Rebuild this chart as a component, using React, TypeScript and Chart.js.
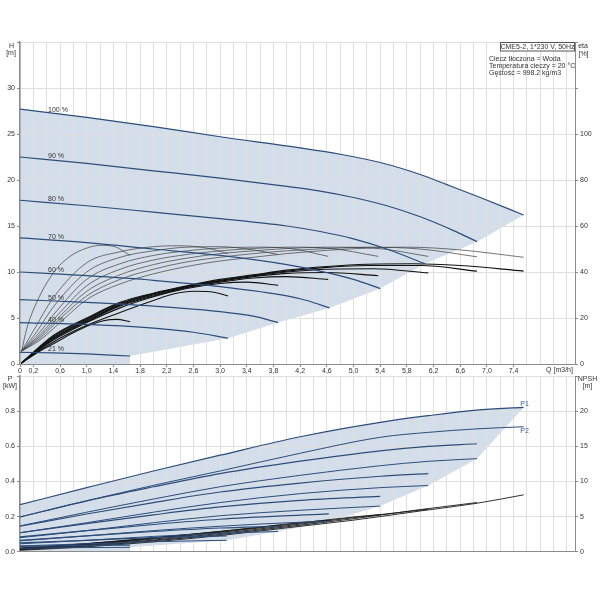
import React, { useEffect, useRef } from 'react';
import { Chart, registerables } from 'chart.js';

Chart.register(...registerables);

const FONT = '"Liberation Sans", Arial, Helvetica, sans-serif';

// ---------- speed labels ----------
const SPEEDS = ['100 %', '90 %', '80 %', '70 %', '60 %', '50 %', '40 %', '21 %'];
const LABEL_Q = 0.42;
const LABEL_H = [27.64, 22.58, 17.88, 13.8, 10.2, 7.22, 4.78, 1.63];

// ---------- H curves [m] ----------
const H_FLOW = [
  [0, 1, 2, 3, 4.2, 4.8, 5.4, 6, 6.4, 6.9, 7.55],
  [0, 1, 2, 3, 4, 4.5, 5, 5.5, 6, 6.5, 6.85],
  [0, 1, 2, 3, 4, 4.5, 5, 5.5, 6.07],
  [0, 1, 2, 3, 4, 4.5, 5, 5.4],
  [0, 1, 2, 3, 4, 4.3, 4.64],
  [0, 1, 2, 3, 3.5, 3.87],
  [0, 1, 2, 2.6, 3.12],
  [0, 0.5, 1, 1.65],
];
const H_HEAD = [
  [27.7, 26.8, 25.8, 24.7, 23.5, 22.8, 21.9, 20.6, 19.5, 18.1, 16.2],
  [22.5, 21.8, 21.0, 20.2, 19.3, 18.8, 18.1, 17.2, 16.0, 14.5, 13.3],
  [17.8, 17.2, 16.5, 15.8, 15.0, 14.4, 13.6, 12.5, 10.9],
  [13.7, 13.2, 12.5, 11.8, 10.8, 10.1, 9.2, 8.2],
  [10.0, 9.6, 9.1, 8.4, 7.4, 6.9, 6.1],
  [7.0, 6.7, 6.3, 5.7, 5.2, 4.5],
  [4.5, 4.3, 3.9, 3.45, 2.8],
  [1.27, 1.2, 1.09, 0.87],
];
// lower edge of the operating range (top chart)
const H_EDGE_Q = [0, 1.65, 1.65, 3.12, 3.87, 4.64, 5.4, 6.07, 6.85, 7.55];
const H_EDGE_H = [0, 0, 0.87, 2.8, 4.5, 6.1, 8.2, 10.9, 13.3, 16.2];

// ---------- eta curves, thin family [%] ----------
const ETA1_FLOW = [
  [0.025, 0.3, 0.6, 1.0, 1.5, 2.0, 2.5, 3.0, 3.5, 4.0, 4.6, 5.2, 5.8, 6.6, 7.55],
  [0.025, 0.3, 0.6, 1.0, 1.5, 2.0, 2.5, 3.0, 3.5, 4.0, 4.6, 5.2, 6.0, 6.85],
  [0.025, 0.3, 0.6, 1.0, 1.5, 2.0, 2.5, 3.0, 3.5, 4.0, 4.6, 5.3, 6.12],
  [0.025, 0.3, 0.6, 1.0, 1.5, 2.0, 2.5, 3.0, 3.5, 4.0, 4.6, 5.37],
  [0.025, 0.3, 0.6, 1.0, 1.5, 2.0, 2.5, 3.0, 3.5, 4.0, 4.62],
  [0.025, 0.25, 0.5, 1.0, 1.5, 2.0, 2.5, 3.0, 3.5, 3.87],
  [0.025, 0.2, 0.5, 1.0, 1.5, 2.0, 2.4, 2.8, 3.12],
  [0.025, 0.1, 0.25, 0.5, 0.75, 1.0, 1.2, 1.42, 1.65],
];
const ETA1_VAL = [
  [5.6, 10.4, 18.0, 28.0, 34.8, 39.2, 42.4, 44.8, 46.4, 48.0, 49.4, 50.4, 50.8, 49.6, 46.4],
  [5.6, 11.2, 19.6, 29.6, 36.8, 41.2, 44.4, 46.4, 48.0, 49.2, 50.2, 50.8, 50.0, 46.6],
  [5.6, 12.0, 20.8, 31.6, 38.8, 43.2, 46.0, 48.0, 49.2, 50.2, 50.8, 50.4, 46.8],
  [5.6, 12.8, 22.4, 34.0, 41.2, 45.2, 47.6, 49.2, 50.2, 50.8, 50.4, 46.8],
  [5.6, 14.0, 24.8, 36.8, 43.6, 47.2, 49.2, 50.4, 50.8, 50.4, 46.8],
  [5.6, 14.0, 24.8, 40.0, 46.4, 49.2, 50.8, 51.0, 49.6, 47.6],
  [5.6, 14.4, 28.8, 44.0, 48.8, 51.0, 51.4, 50.4, 48.0],
  [5.6, 15.2, 26.8, 39.6, 46.8, 50.4, 51.6, 51.0, 47.2],
];

// ---------- eta curves, thick family [%] ----------
const ETA2_FLOW = [
  [0.02, 0.5, 1, 1.5, 2, 2.5, 3, 3.5, 4, 4.6, 5.2, 5.9, 6.6, 7.55],
  [0.02, 0.5, 1, 1.5, 2, 2.5, 3, 3.5, 4, 4.6, 5.2, 6, 6.85],
  [0.02, 0.5, 1, 1.5, 2, 2.5, 3, 3.5, 4, 4.6, 5.3, 6.12],
  [0.02, 0.5, 1, 1.5, 2, 2.5, 3, 3.5, 4, 4.6, 5.37],
  [0.02, 0.5, 1, 1.5, 2, 2.5, 3, 3.5, 4.0, 4.62],
  [0.02, 0.5, 1.0, 1.5, 2.0, 2.5, 3.0, 3.4, 3.87],
  [0.02, 0.5, 1.0, 1.5, 2.0, 2.3, 2.6, 2.85, 3.12],
  [0.02, 0.25, 0.5, 0.75, 1.0, 1.25, 1.45, 1.65],
];
const ETA2_VAL = [
  [0.4, 12.4, 20.0, 26.8, 30.8, 34.0, 36.8, 38.8, 40.8, 42.4, 43.4, 43.6, 42.8, 40.4],
  [0.4, 12.0, 19.6, 26.4, 30.6, 33.8, 36.4, 38.6, 40.4, 42.0, 42.8, 42.8, 40.4],
  [0.4, 11.6, 19.2, 26.0, 30.4, 33.6, 36.2, 38.4, 40.0, 41.2, 41.4, 39.6],
  [0.4, 11.2, 18.8, 25.6, 30.0, 33.4, 36.0, 38.0, 39.4, 39.8, 38.4],
  [0.4, 10.8, 18.4, 25.2, 29.6, 33.2, 35.6, 37.4, 38.0, 36.8],
  [0.4, 10.4, 18.0, 24.4, 29.2, 32.8, 35.0, 35.6, 34.2],
  [0.4, 9.6, 16.8, 22.4, 27.6, 30.4, 31.6, 31.4, 29.6],
  [0.4, 4.8, 8.8, 12.8, 16.4, 18.8, 19.4, 18.4],
];

// ---------- power curves [kW] ----------
const P1_FLOW = [
  [0, 1, 2, 3, 4.2, 5.4, 6.12, 6.85, 7.55],
  [0, 1, 2, 3, 4.2, 5.4, 6.12, 6.85],
  [0, 1, 2, 3, 4.2, 5.4, 6.12],
  [0, 1, 2, 3, 4.2, 5.4],
  [0, 1, 2, 3, 4.2, 4.63],
  [0, 1, 2, 3, 3.87],
  [0, 1, 2, 3.1],
  [0, 0.8, 1.65],
];
const P1_VAL = [
  [0.268, 0.365, 0.46, 0.55, 0.655, 0.737, 0.775, 0.807, 0.822],
  [0.198, 0.29, 0.37, 0.445, 0.516, 0.575, 0.60, 0.615],
  [0.145, 0.215, 0.28, 0.34, 0.391, 0.43, 0.445],
  [0.108, 0.16, 0.21, 0.255, 0.293, 0.315],
  [0.085, 0.12, 0.155, 0.185, 0.208, 0.215],
  [0.065, 0.09, 0.115, 0.135, 0.145],
  [0.05, 0.065, 0.08, 0.09],
  [0.03, 0.035, 0.038],
];
const P2_VAL = [
  [0.198, 0.29, 0.378, 0.46, 0.561, 0.652, 0.68, 0.70, 0.712],
  [0.147, 0.225, 0.30, 0.37, 0.435, 0.49, 0.515, 0.53],
  [0.108, 0.165, 0.225, 0.28, 0.331, 0.365, 0.377],
  [0.08, 0.12, 0.165, 0.205, 0.236, 0.26],
  [0.062, 0.09, 0.12, 0.145, 0.168, 0.172],
  [0.045, 0.065, 0.087, 0.105, 0.115],
  [0.033, 0.045, 0.057, 0.065],
  [0.02, 0.023, 0.025],
];
const P_EDGE_Q = [0, 1.65, 1.65, 3.1, 3.87, 4.63, 5.4, 6.12, 6.85, 7.55];
const P_EDGE_P = [0, 0, 0.025, 0.065, 0.115, 0.172, 0.26, 0.377, 0.53, 0.822];

// ---------- NPSH curves [m] ----------
const NPSH_FLOW = [
  [0, 1, 2, 3, 4, 5, 6, 6.85, 7.55],
  [0, 1, 2, 3, 4, 5, 6, 6.85],
  [0, 1, 2, 3, 4, 5, 6.12],
  [0, 1, 2, 3, 4, 5, 5.4],
  [0, 1, 2, 3, 4, 4.63],
  [0, 1, 2, 3, 3.87],
  [0, 1, 2, 3.1],
  [0, 1, 1.65],
];
const NPSH_VAL = [
  [0.2, 0.7, 1.4, 2.3, 3.4, 4.5, 5.8, 6.9, 8.1],
  [0.3, 0.8, 1.55, 2.45, 3.55, 4.7, 6.0, 7.0],
  [0.35, 0.9, 1.65, 2.6, 3.7, 4.85, 6.05],
  [0.4, 1.0, 1.8, 2.75, 3.85, 4.95, 5.3],
  [0.45, 1.05, 1.9, 2.85, 3.95, 4.5],
  [0.45, 1.1, 1.95, 2.9, 3.75],
  [0.5, 1.15, 2.0, 2.95],
  [0.5, 1.15, 1.6],
];

const INFO = ['Ciecz tłoczona = Woda', 'Temperatura cieczy = 20 °C', 'Gęstość = 998.2 kg/m3'];
const TITLE_BOX = 'CME5-2, 1*230 V, 50Hz';

// ---------- styles ----------
const FILL = '#d3deea';
const BLUE = '#2c4d7c';
const GRID = '#dfdfdf';
const AXIS = '#8c8c8c';
const TXT = '#333333';

const pts = (q: number[], v: number[]) => q.map((x, i) => ({ x, y: v[i] }));

const Q_LABELED = (v: number) => {
  const r = Math.round(v * 10);
  return r === 0 || (r % 4 === 2 && r <= 74);
};
const fmtQ = (v: number) => {
  const r = Math.round(v * 10);
  if (r === 0) return '0';
  return (r / 10).toFixed(1).replace('.', ',');
};

const curve = (data: any[], color: string, width: number, axis: string, order: number) => ({
  data,
  borderColor: color,
  borderWidth: width,
  yAxisID: axis,
  pointRadius: 0,
  fill: false,
  order,
  cubicInterpolationMode: 'monotone' as const,
});

const tickFont = { family: FONT, size: 7 };

function xScale(showLabels: boolean, height: number) {
  return {
    type: 'linear',
    min: 0,
    max: 8.32,
    position: 'bottom',
    afterFit: (s: any) => { s.height = height; },
    ticks: {
      stepSize: 0.2,
      includeBounds: false,
      autoSkip: false,
      maxRotation: 0,
      minRotation: 0,
      padding: 0,
      display: showLabels,
      font: tickFont,
      color: TXT,
      callback: (v: any) => (Q_LABELED(Number(v)) ? fmtQ(Number(v)) : ''),
    },
    grid: {
      color: GRID,
      lineWidth: 1,
      drawTicks: showLabels,
      tickLength: 3,
      tickColor: (ctx: any) => (ctx.tick && Q_LABELED(ctx.tick.value) ? AXIS : 'rgba(0,0,0,0)'),
    },
    border: { color: AXIS, width: 1 },
  };
}

function yScale(pos: 'left' | 'right', max: number, step: number, width: number, fmt: (v: number) => string, grid: boolean) {
  return {
    type: 'linear',
    position: pos,
    min: 0,
    max,
    afterFit: (s: any) => { s.width = width; },
    ticks: {
      stepSize: step,
      padding: 2,
      font: tickFont,
      color: TXT,
      callback: (v: any) => fmt(Number(v)),
    },
    grid: {
      color: GRID,
      drawOnChartArea: grid,
      tickLength: 3,
      tickColor: AXIS,
    },
    border: { color: AXIS, width: pos === 'left' ? 1.5 : 1 },
  };
}

function topConfig(): any {
  const fillData = [
    ...pts(H_EDGE_Q, H_EDGE_H),
    ...pts(H_FLOW[0], H_HEAD[0]).reverse(),
  ];
  const datasets: any[] = [
    {
      data: fillData,
      borderWidth: 0,
      backgroundColor: FILL,
      fill: 'shape',
      pointRadius: 0,
      tension: 0,
      yAxisID: 'y',
      order: 10,
    },
  ];
  ETA1_FLOW.forEach((q, i) => datasets.push(curve(pts(q, ETA1_VAL[i]), '#3c3c3c', 0.7, 'yE', 3)));
  ETA2_FLOW.forEach((q, i) => datasets.push(curve(pts(q, ETA2_VAL[i]), '#111111', 1.1, 'yE', 2)));
  H_FLOW.forEach((q, i) => datasets.push(curve(pts(q, H_HEAD[i]), BLUE, 1.2, 'y', 1)));

  const textPlugin = {
    id: 'topTexts',
    afterDraw(chart: any) {
      const ctx = chart.ctx as CanvasRenderingContext2D;
      const xs = chart.scales.x;
      const ys = chart.scales.y;
      ctx.save();
      ctx.font = `7px ${FONT}`;
      ctx.fillStyle = TXT;
      ctx.textBaseline = 'middle';
      ctx.textAlign = 'left';
      SPEEDS.forEach((t, i) => {
        ctx.fillText(t, xs.getPixelForValue(LABEL_Q), ys.getPixelForValue(LABEL_H[i]));
      });
      ctx.textAlign = 'center';
      ctx.fillText('H', 11.5, 46);
      ctx.fillText('[m]', 11, 53.5);
      ctx.fillText('eta', 583, 46);
      ctx.fillText('[%]', 583.5, 54);
      ctx.fillText('Q [m3/h]', 559.5, 370.5);
      // header box
      ctx.fillStyle = '#ffffff';
      ctx.fillRect(500, 42, 75, 9);
      ctx.strokeStyle = '#555555';
      ctx.lineWidth = 1;
      ctx.strokeRect(500.5, 42.5, 74, 8.5);
      ctx.fillStyle = TXT;
      ctx.fillText(TITLE_BOX, 537.5, 47);
      ctx.textAlign = 'left';
      INFO.forEach((t, i) => ctx.fillText(t, 489, 59 + i * 7.2));
      ctx.restore();
    },
  };

  return {
    type: 'line',
    data: { datasets },
    plugins: [textPlugin],
    options: {
      responsive: false,
      animation: false,
      events: [],
      layout: { padding: { top: 42, left: 0, right: 0, bottom: 0 } },
      plugins: {
        legend: { display: false },
        tooltip: { enabled: false },
        filler: { drawTime: 'beforeDraw' },
      },
      scales: {
        x: xScale(true, 16),
        y: yScale('left', 35, 5, 20, (v) => (v > 30 ? '' : String(v)), true),
        yE: yScale('right', 140, 20, 25, (v) => (v > 100 ? '' : String(v)), false),
      },
    },
  };
}

function bottomConfig(): any {
  const fillData = [
    ...pts(P_EDGE_Q, P_EDGE_P),
    ...pts(P1_FLOW[0], P1_VAL[0]).reverse(),
  ];
  const datasets: any[] = [
    {
      data: fillData,
      borderWidth: 0,
      backgroundColor: FILL,
      fill: 'shape',
      pointRadius: 0,
      tension: 0,
      yAxisID: 'yP',
      order: 10,
    },
  ];
  NPSH_FLOW.forEach((q, i) => datasets.push(curve(pts(q, NPSH_VAL[i]), '#1a1a1a', 0.9, 'yN', 3)));
  P1_FLOW.forEach((q, i) => datasets.push(curve(pts(q, P2_VAL[i]), BLUE, 1.0, 'yP', 2)));
  P1_FLOW.forEach((q, i) => datasets.push(curve(pts(q, P1_VAL[i]), BLUE, 1.2, 'yP', 1)));

  const textPlugin = {
    id: 'botTexts',
    afterDraw(chart: any) {
      const ctx = chart.ctx as CanvasRenderingContext2D;
      const xs = chart.scales.x;
      const ys = chart.scales.yP;
      ctx.save();
      ctx.font = `7px ${FONT}`;
      ctx.fillStyle = TXT;
      ctx.textBaseline = 'middle';
      ctx.textAlign = 'center';
      ctx.fillText('P', 10, 9);
      ctx.fillText('[kW]', 10, 16.5);
      ctx.fillText('NPSH', 587.5, 9);
      ctx.fillText('[m]', 587.5, 16.5);
      ctx.textAlign = 'left';
      ctx.fillStyle = '#2f5e98';
      ctx.fillText('P1', xs.getPixelForValue(7.5), ys.getPixelForValue(0.842));
      ctx.fillText('P2', xs.getPixelForValue(7.5), ys.getPixelForValue(0.687));
      ctx.restore();
    },
  };

  return {
    type: 'line',
    data: { datasets },
    plugins: [textPlugin],
    options: {
      responsive: false,
      animation: false,
      events: [],
      layout: { padding: { top: 5, left: 0, right: 0, bottom: 0 } },
      plugins: {
        legend: { display: false },
        tooltip: { enabled: false },
        filler: { drawTime: 'beforeDraw' },
      },
      scales: {
        x: xScale(false, 48.3),
        yP: yScale('left', 1, 0.2, 20, (v) => (v > 0.85 ? '' : v.toFixed(1)), true),
        yN: yScale('right', 25, 5, 25, (v) => (v > 20 ? '' : String(Math.round(v))), false),
      },
    },
  };
}

export default function App() {
  const topRef = useRef<HTMLCanvasElement>(null);
  const botRef = useRef<HTMLCanvasElement>(null);

  useEffect(() => {
    const c1 = new Chart(topRef.current as HTMLCanvasElement, topConfig());
    const c2 = new Chart(botRef.current as HTMLCanvasElement, bottomConfig());
    return () => {
      c1.destroy();
      c2.destroy();
    };
  }, []);

  return (
    <div style={{ position: 'absolute', left: 0, top: 0, width: 600, height: 600, background: '#ffffff', overflow: 'hidden' }}>
      <canvas
        ref={topRef}
        width={600}
        height={380}
        style={{ position: 'absolute', left: 0, top: 0, width: 600, height: 380 }}
      />
      <canvas
        ref={botRef}
        width={600}
        height={230}
        style={{ position: 'absolute', left: 0, top: 370, width: 600, height: 230 }}
      />
    </div>
  );
}
